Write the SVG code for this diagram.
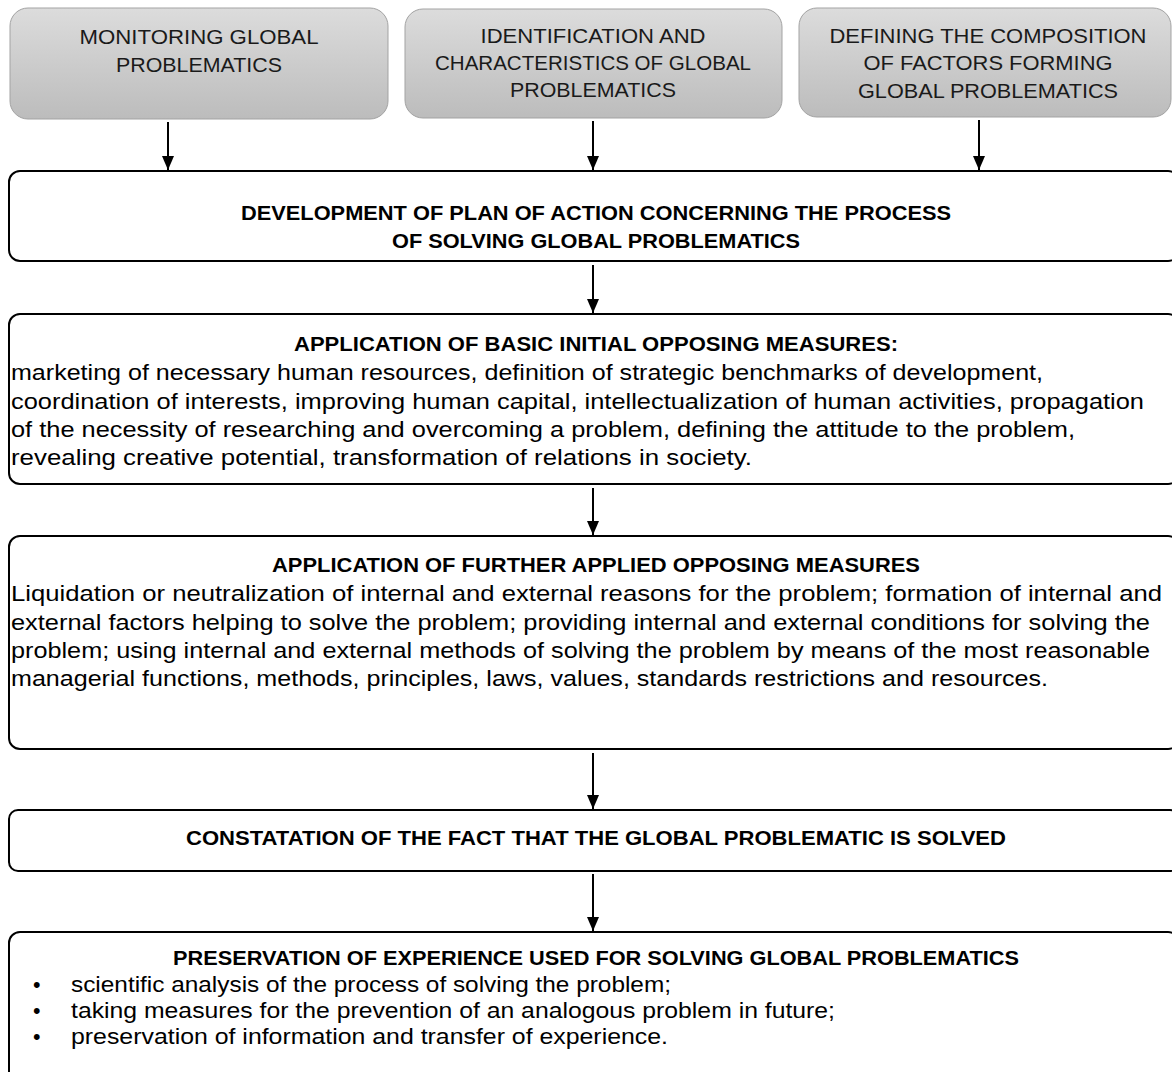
<svg xmlns="http://www.w3.org/2000/svg" width="1172" height="1072" viewBox="0 0 1172 1072">
<defs>
<linearGradient id="g" x1="0" y1="0" x2="0" y2="1">
<stop offset="0" stop-color="#dcdcdc"/>
<stop offset="1" stop-color="#bcbcbc"/>
</linearGradient>
<marker id="ah" viewBox="0 0 14 12" refX="14" refY="6" markerWidth="14" markerHeight="12" markerUnits="userSpaceOnUse" orient="auto">
<path d="M0,0 L14,6 L0,12 Z" fill="#000"/>
</marker>
</defs>
<style>
.top{fill:url(#g);stroke:#a3a3a3;stroke-width:1}
.box{fill:#fff;stroke:#000;stroke-width:2}
.tt{font-family:"Liberation Sans",Arial,sans-serif;font-size:21px;fill:#1a1a1a;text-anchor:middle}
.hd{font-family:"Liberation Sans",Arial,sans-serif;font-size:20px;font-weight:bold;fill:#000;text-anchor:middle}
.bd{font-family:"Liberation Sans",Arial,sans-serif;font-size:21.5px;fill:#000}
.conn line{stroke:#000;stroke-width:2}
</style>
<g id="n1">
<rect class="top" x="10" y="8" width="378" height="111" rx="18"/>
<text class="tt" x="199" y="44" textLength="239" lengthAdjust="spacingAndGlyphs">MONITORING GLOBAL</text>
<text class="tt" x="199" y="72" textLength="166" lengthAdjust="spacingAndGlyphs">PROBLEMATICS</text>
</g>
<g id="n2">
<rect class="top" x="405" y="9" width="377" height="109" rx="18"/>
<text class="tt" x="593" y="43" textLength="225" lengthAdjust="spacingAndGlyphs">IDENTIFICATION AND</text>
<text class="tt" x="593" y="70" textLength="316" lengthAdjust="spacingAndGlyphs">CHARACTERISTICS OF GLOBAL</text>
<text class="tt" x="593" y="97" textLength="166" lengthAdjust="spacingAndGlyphs">PROBLEMATICS</text>
</g>
<g id="n3">
<rect class="top" x="799" y="8" width="372" height="109" rx="18"/>
<text class="tt" x="988" y="43" textLength="317" lengthAdjust="spacingAndGlyphs">DEFINING THE COMPOSITION</text>
<text class="tt" x="988" y="70" textLength="249" lengthAdjust="spacingAndGlyphs">OF FACTORS FORMING</text>
<text class="tt" x="988" y="98" textLength="260" lengthAdjust="spacingAndGlyphs">GLOBAL PROBLEMATICS</text>
</g>
<g id="n4">
<rect class="box" x="9" y="171" width="1170" height="90" rx="11"/>
<text class="hd" x="596" y="220" textLength="710" lengthAdjust="spacingAndGlyphs">DEVELOPMENT OF PLAN OF ACTION CONCERNING THE PROCESS</text>
<text class="hd" x="596" y="248" textLength="408" lengthAdjust="spacingAndGlyphs">OF SOLVING GLOBAL PROBLEMATICS</text>
</g>
<g id="n5">
<rect class="box" x="9" y="314" width="1170" height="170" rx="11"/>
<text class="hd" x="596" y="351" textLength="604" lengthAdjust="spacingAndGlyphs">APPLICATION OF BASIC INITIAL OPPOSING MEASURES:</text>
<text class="bd" x="11" y="380" textLength="1032" lengthAdjust="spacingAndGlyphs">marketing of necessary human resources, definition of strategic benchmarks of development,</text>
<text class="bd" x="11" y="409" textLength="1133" lengthAdjust="spacingAndGlyphs">coordination of interests, improving human capital, intellectualization of human activities, propagation</text>
<text class="bd" x="11" y="437" textLength="1064" lengthAdjust="spacingAndGlyphs">of the necessity of researching and overcoming a problem, defining the attitude to the problem,</text>
<text class="bd" x="11" y="465" textLength="741" lengthAdjust="spacingAndGlyphs">revealing creative potential, transformation of relations in society.</text>
</g>
<g id="n6">
<rect class="box" x="9" y="536" width="1170" height="213" rx="11"/>
<text class="hd" x="596" y="572" textLength="648" lengthAdjust="spacingAndGlyphs">APPLICATION OF FURTHER APPLIED OPPOSING MEASURES</text>
<text class="bd" x="11" y="601" textLength="1151" lengthAdjust="spacingAndGlyphs">Liquidation or neutralization of internal and external reasons for the problem; formation of internal and</text>
<text class="bd" x="11" y="630" textLength="1139" lengthAdjust="spacingAndGlyphs">external factors helping to solve the problem; providing internal and external conditions for solving the</text>
<text class="bd" x="11" y="658" textLength="1139" lengthAdjust="spacingAndGlyphs">problem; using internal and external methods of solving the problem by means of the most reasonable</text>
<text class="bd" x="11" y="686" textLength="1037" lengthAdjust="spacingAndGlyphs">managerial functions, methods, principles, laws, values, standards restrictions and resources.</text>
</g>
<g id="n7">
<rect class="box" x="9" y="810" width="1170" height="61" rx="9"/>
<text class="hd" x="596" y="845" textLength="820" lengthAdjust="spacingAndGlyphs">CONSTATATION OF THE FACT THAT THE GLOBAL PROBLEMATIC IS SOLVED</text>
</g>
<g id="n8">
<rect class="box" x="9" y="932" width="1170" height="160" rx="11"/>
<text class="hd" x="596" y="965" textLength="846" lengthAdjust="spacingAndGlyphs">PRESERVATION OF EXPERIENCE USED FOR SOLVING GLOBAL PROBLEMATICS</text>
<text class="bd" x="33" y="992">•</text>
<text class="bd" x="71" y="992" textLength="600" lengthAdjust="spacingAndGlyphs">scientific analysis of the process of solving the problem;</text>
<text class="bd" x="33" y="1018">•</text>
<text class="bd" x="71" y="1018" textLength="764" lengthAdjust="spacingAndGlyphs">taking measures for the prevention of an analogous problem in future;</text>
<text class="bd" x="33" y="1044">•</text>
<text class="bd" x="71" y="1044" textLength="597" lengthAdjust="spacingAndGlyphs">preservation of information and transfer of experience.</text>
</g>
<g id="connectors" class="conn">
<line x1="168" y1="122" x2="168" y2="170" marker-end="url(#ah)"/>
<line x1="593" y1="121" x2="593" y2="170" marker-end="url(#ah)"/>
<line x1="979" y1="120" x2="979" y2="170" marker-end="url(#ah)"/>
<line x1="593" y1="265" x2="593" y2="313" marker-end="url(#ah)"/>
<line x1="593" y1="488" x2="593" y2="535" marker-end="url(#ah)"/>
<line x1="593" y1="753" x2="593" y2="809" marker-end="url(#ah)"/>
<line x1="593" y1="874" x2="593" y2="931" marker-end="url(#ah)"/>
</g>
</svg>
